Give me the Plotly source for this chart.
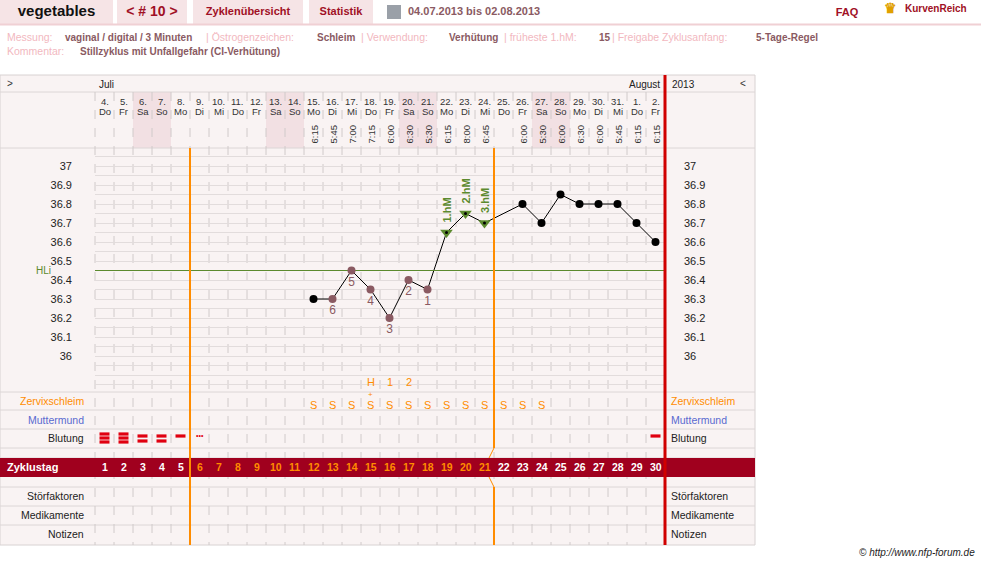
import plotly.graph_objects as go

# ---- data ----
days = list(range(1, 31))
dates = [4, 5, 6, 7, 8, 9, 10, 11, 12, 13, 14, 15, 16, 17, 18, 19, 20, 21, 22, 23, 24, 25, 26, 27, 28, 29, 30, 31, 1, 2]
weekdays = ["Do", "Fr", "Sa", "So", "Mo", "Di", "Mi", "Do", "Fr", "Sa", "So", "Mo", "Di", "Mi", "Do", "Fr",
            "Sa", "So", "Mo", "Di", "Mi", "Do", "Fr", "Sa", "So", "Mo", "Di", "Mi", "Do", "Fr"]
times = ["", "", "", "", "", "", "", "", "", "", "", "6:15", "5:45", "7:00", "7:15", "6:00", "6:30", "5:30",
         "6:15", "8:00", "6:45", "", "6:00", "5:30", "6:00", "6:30", "6:00", "5:45", "6:15", "6:15"]
temp_days = [12, 13, 14, 15, 16, 17, 18, 19, 20, 21, 23, 24, 25, 26, 27, 28, 29, 30]
temps = [36.30, 36.30, 36.45, 36.35, 36.20, 36.40, 36.35, 36.65, 36.75, 36.70,
         36.80, 36.70, 36.85, 36.80, 36.80, 36.80, 36.70, 36.60]
low_days = [13, 14, 15, 16, 17, 18]
low_labels = ["6", "5", "4", "3", "2", "1"]
hm_days = [19, 20, 21]
hm_labels = ["1.hM", "2.hM", "3.hM"]
schleim_days = list(range(12, 25))
blut_days = [1, 2, 3, 4, 5, 30]
blut_level = [3, 3, 2, 2, 1, 1]
hli = 36.45
temp_ticks = [36, 36.1, 36.2, 36.3, 36.4, 36.5, 36.6, 36.7, 36.8, 36.9, 37]
tick_text = ["36", "36.1", "36.2", "36.3", "36.4", "36.5", "36.6", "36.7", "36.8", "36.9", "37"]
top_texts = ["vegetables", "&lt; # 10 &gt;", "Zyklenübersicht", "Statistik", "04.07.2013 bis 02.08.2013",
             "FAQ", "KurvenReich", "♛"]

# ---- geometry (pixels) ----
W, H = 981, 564
X0, CW = 95, 19
XR = X0 + 30 * CW
FONT = "Liberation Sans, Arial, sans-serif"
BG = "#f9f3f3"
LINE = "#dcd6d6"
DARKRED = "#a0001e"
ORANGE = "#ff8c00"
MAUVE = "#8a5a62"
GREEN = "#5c8a2e"
RED = "#a01025"


def cx(d):
    return X0 + (d - 0.5) * CW


shapes = []
ann = []


def rect(x0, y0, x1, y1, fill, line=None):
    shapes.append(dict(type="rect", xref="x", yref="y", x0=x0, x1=x1, y0=y0, y1=y1, fillcolor=fill,
                       line=dict(width=1 if line else 0, color=line or fill), layer="below"))


def seg(x0, y0, x1, y1, color, width=1, dash=None, layer="below"):
    shapes.append(dict(type="line", xref="x", yref="y", x0=x0, x1=x1, y0=y0, y1=y1, layer=layer,
                       line=dict(color=color, width=width, dash=dash)))


def text(x, y, t, size=11, color="#333", anchor="center", bold=False, angle=0, italic=False):
    if bold:
        t = "<b>" + t + "</b>"
    if italic:
        t = "<i>" + t + "</i>"
    ann.append(dict(xref="x", yref="y", x=x, y=y, text=t, showarrow=False, xanchor=anchor, yanchor="middle",
                    textangle=angle, font=dict(family=FONT, size=size, color=color)))


# top bar
tab_box = [(0, 113), (117, 187), (193, 303), (309, 373)]
for x0, x1 in tab_box:
    rect(x0, 0, x1, 24, "#f6e4e6")
seg(0, 24.5, W, 24.5, "#f0d0d4", 2)
rect(387, 5, 401, 19, "#9aa0a8")
top_x = [(a + b) / 2 for a, b in tab_box] + [408, 847, 905, 890]
top_y = [12, 12, 12, 12, 12, 13, 9, 9]
top_pos = ["middle center"] * 4 + ["middle right", "middle center", "middle right", "middle center"]
top_size = [15, 14, 11, 11, 11, 11, 10, 14]
top_col = ["#111", RED, RED, RED, MAUVE, RED, RED, "#e0a000"]

# info lines
pale = "#f2b8c0"
info = [(5, "Messung:", pale), (63, "vaginal / digital / 3 Minuten", MAUVE), (204, "| Östrogenzeichen:", pale),
        (315, "Schleim", MAUVE), (359, "| Verwendung:", pale), (447, "Verhütung", MAUVE),
        (502, "| früheste 1.hM:", pale), (597, "15", MAUVE), (610, "| Freigabe Zyklusanfang:", pale),
        (754, "5-Tage-Regel", MAUVE)]
for x, t, c in info:
    text(x, 37, t, 10.5 if c == pale else 10, c, "left", bold=(c == MAUVE))
text(5, 51, "Kommentar:", 10.5, pale, "left")
text(78, 51, "Stillzyklus mit Unfallgefahr (CI-Verhütung)", 10, MAUVE, "left", bold=True)

# chart frame
rect(0, 75, 755, 545, BG, "#d8d2d2")
for d in days:
    if weekdays[d - 1] in ("Sa", "So"):
        rect(X0 + (d - 1) * CW, 92, X0 + d * CW, 148, "#f2e0e3")
for y in [92, 148, 392, 410, 429, 448, 458, 487, 506, 525]:
    seg(0, y, 755, y, LINE)
for i in range(31):
    seg(X0 + i * CW, 92, X0 + i * CW, 545, "#d0caca", 1, "dash")
rect(0, 458, 755, 477, DARKRED)
text(5, 83, "&gt;", 10, "#333", "left")
text(97, 84, "Juli", 10, "#222", "left")
text(662, 84, "August", 10, "#222", "right")
text(670, 84, "2013", 10, "#222", "left")
text(748, 83, "&lt;", 10, "#333", "right")
for d in days:
    text(cx(d), 101, f"{dates[d - 1]}.", 9.5, "#333")
    text(cx(d), 111, weekdays[d - 1], 9.5, "#333")
    if times[d - 1]:
        text(cx(d), 134, times[d - 1], 9.5, "#333", angle=-90)

# row labels
for y, lab, col in [(401, "Zervixschleim", ORANGE), (420, "Muttermund", "#5a6ad0"), (438, "Blutung", "#222"),
                    (496, "Störfaktoren", "#222"), (515, "Medikamente", "#222"), (534, "Notizen", "#222")]:
    text(86, y, lab, 10.5, col, "right")
    text(669, y, lab, 10.5, col, "left")
text(5, 467, "Zyklustag", 11, "white", "left", bold=True)
for d in days:
    col = ORANGE if 6 <= d <= 21 else "white"
    text(cx(d), 467, str(d), 10.5, col, bold=True)
for d in schleim_days:
    text(cx(d), 405, "S", 11, ORANGE)
text(cx(15), 394, "+", 8, ORANGE)
for d, t in zip([15, 16, 17], ["H", "1", "2"]):
    text(cx(d), 382, t, 11, ORANGE)
for d, lv in zip(blut_days, blut_level):
    ys = {3: [434, 438, 442], 2: [436, 441], 1: [436]}[lv]
    for y in ys:
        shapes.append(dict(type="rect", xref="x", yref="y", x0=cx(d) - 5, x1=cx(d) + 5, y0=y - 1.6, y1=y + 1.6,
                           fillcolor="#e00010", line=dict(width=0)))
text(cx(6), 435, "•••", 7, "#e00010")

# vertical markers
seg(190, 148, 190, 545, ORANGE, 2, layer="above")
xb = X0 + 21 * CW
seg(xb, 148, xb, 448, ORANGE, 2, layer="above")
seg(xb, 448, xb - 5, 458, ORANGE, 1, layer="above")
seg(xb - 5, 477, xb, 487, ORANGE, 1, layer="above")
seg(xb, 487, xb, 545, ORANGE, 2, layer="above")
seg(XR, 75, XR, 545, "#d00000", 3, layer="above")

text(977, 552, "© http://www.nfp-forum.de", 10, "#222", "right", italic=True)
text(53, 270, "HLi", 10, GREEN, "right")

fig = go.Figure()
# top bar labels
fig.add_trace(go.Scatter(x=top_x, y=top_y, mode="text", text=["<b>" + t + "</b>" for t in top_texts],
                         textposition=top_pos, textfont=dict(family=FONT, size=top_size, color=top_col),
                         hoverinfo="skip", cliponaxis=False))
# temperature curve on its own scaled axes
fig.add_trace(go.Scatter(x=temp_days, y=temps, mode="lines", line=dict(color="black", width=1),
                         xaxis="x2", yaxis="y2", hoverinfo="skip"))
fig.add_trace(go.Scatter(x=[-4.5, 31.5], y=[hli, hli], mode="lines", line=dict(color=GREEN, width=1),
                         xaxis="x2", yaxis="y2", hoverinfo="skip", cliponaxis=False))
norm = [(d, t) for d, t in zip(temp_days, temps) if d not in low_days and d not in hm_days]
fig.add_trace(go.Scatter(x=[a for a, b in norm], y=[b for a, b in norm], mode="markers",
                         marker=dict(color="black", size=8), xaxis="x2", yaxis="y2"))
lows = [t for d, t in zip(temp_days, temps) if d in low_days]
fig.add_trace(go.Scatter(x=low_days, y=lows, mode="markers+text", text=low_labels, textposition="bottom center",
                         textfont=dict(family=FONT, size=12, color=MAUVE),
                         marker=dict(color=MAUVE, size=8), xaxis="x2", yaxis="y2"))
hms = [t for d, t in zip(temp_days, temps) if d in hm_days]
fig.add_trace(go.Scatter(x=hm_days, y=hms, mode="markers", marker=dict(color=GREEN, size=11, symbol="triangle-down"),
                         xaxis="x2", yaxis="y2"))
fig.add_trace(go.Scatter(x=hm_days, y=hms, mode="markers", marker=dict(color="black", size=3),
                         xaxis="x2", yaxis="y2"))

ytop = 37 + (166 - 147) / 190
ybot = 36 - (393 - 356) / 190
fig.update_layout(
    width=W, height=H, margin=dict(l=0, r=0, t=0, b=0), paper_bgcolor="white", plot_bgcolor="rgba(0,0,0,0)",
    showlegend=False, shapes=shapes,
    xaxis=dict(range=[0, W], domain=[0, 1], visible=False, fixedrange=True),
    yaxis=dict(range=[H, 0], domain=[0, 1], visible=False, fixedrange=True),
    xaxis2=dict(range=[0.5, 30.5], domain=[X0 / W, XR / W], anchor="y2", visible=False),
    yaxis2=dict(range=[ybot, ytop], domain=[1 - 393 / H, 1 - 147 / H], anchor="x2",
                tickvals=temp_ticks, ticktext=tick_text, ticklabelstandoff=22, showline=False, zeroline=False,
                showgrid=True, gridcolor="#e2dcdc", tickfont=dict(family=FONT, size=11, color="#222"),
                minor=dict(dtick=0.05, showgrid=True, gridcolor="#e2dcdc")),
    yaxis3=dict(range=[ybot, ytop], domain=[1 - 393 / H, 1 - 147 / H], anchor="x2", overlaying="y2", side="right",
                tickvals=temp_ticks, ticktext=tick_text, ticklabelstandoff=18, showgrid=False, zeroline=False,
                tickfont=dict(family=FONT, size=11, color="#222")),
)
for a in ann:
    fig.add_annotation(**a)
for d, t, lab in zip(hm_days, hms, hm_labels):
    fig.add_annotation(x=d, y=t, xref="x2", yref="y2", text="<b>" + lab + "</b>", textangle=-90,
                       showarrow=False, yanchor="bottom", yshift=8, font=dict(family=FONT, size=11, color=GREEN))
fig.add_trace(go.Scatter(x=[None], y=[None], xaxis="x2", yaxis="y3"))
fig.write_html("out.html", post_script="document.body.style.margin='0';", config={"displayModeBar": False})
